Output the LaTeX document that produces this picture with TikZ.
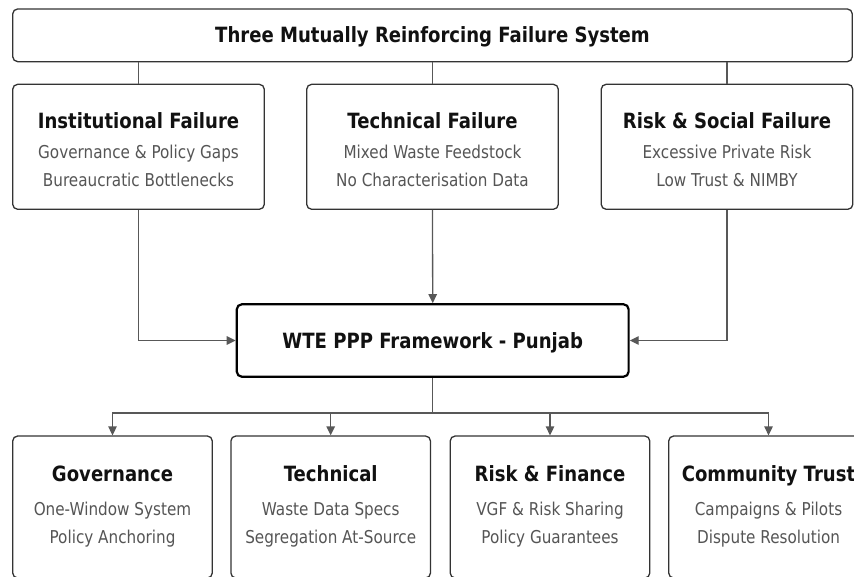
\documentclass[tikz,border=0pt]{standalone}
\usepackage{fontspec}
\setmainfont{DejaVu Sans}[FakeStretch=0.86]
\usepackage{tikz}
\usetikzlibrary{positioning, arrows.meta}

\definecolor{LineGray}{RGB}{88,88,88}
\definecolor{EdgeGray}{RGB}{51,51,51}
\definecolor{TitleBlack}{RGB}{17,17,17}
\definecolor{SubGray}{RGB}{85,85,85}

\newcommand{\titlefont}{\fontsize{21}{25}\selectfont\bfseries\color{TitleBlack}}
\newcommand{\subfont}{\fontsize{17.7}{27.7}\selectfont}
\newcommand{\boxlines}[4][2.3pt]{\begin{tabular}[t]{@{}c@{}}{\titlefont #2}\\[#1] #3\\ #4\end{tabular}}

\tikzstyle{card} = [draw=EdgeGray, line width=1.3pt, rounded corners=5pt, fill=white, inner sep=0pt]
\tikzstyle{boxtext} = [anchor=base, inner sep=0pt, font=\subfont, text=SubGray]
\tikzstyle{link} = [line width=1.3pt, LineGray]
\tikzstyle{arrow} = [link, -{Triangle[length=9pt,width=8.5pt]}]

\begin{document}
\begin{tikzpicture}[x=1pt, y=-1pt]
  % Canvas
  \fill[white] (0,0) rectangle (854,576);
  \useasboundingbox (0,0) rectangle (854,576);
  \clip (0,0) rectangle (854,576);

  % Header
  \node[card, minimum width=839.6pt, minimum height=52.7pt] (system) at (432.5,35.3) {};
  \node[boxtext] (system-text) at ([yshift=-7.4pt]system.center) {\titlefont Three Mutually Reinforcing Failure System};

  % Failure modes
  \foreach \name/\cx/\ttl/\la/\lb in {
      inst/138.5/Institutional Failure/Governance \& Policy Gaps/Bureaucratic Bottlenecks,
      tech/432.5/Technical Failure/Mixed Waste Feedstock/No Characterisation Data,
      risk/727/Risk \& Social Failure/Excessive Private Risk/Low Trust \& NIMBY} {
    \node[card, minimum width=251.6pt, minimum height=125pt] (\name) at (\cx,146.8) {};
    \node[boxtext] (\name-text) at ([yshift=-45pt]\name.north) {\boxlines{\ttl}{\la}{\lb}};
  }

  % Framework
  \node[card, draw=black, line width=2.2pt, minimum width=391.8pt, minimum height=72.4pt] (frame) at (432.7,340.5) {};
  \node[boxtext] (frame-text) at ([yshift=-7.8pt]frame.center) {\titlefont WTE PPP Framework - Punjab};

  % Pillars
  \foreach \name/\cx/\ttl/\la/\lb in {
      gov/112.5/Governance/One-Window System/Policy Anchoring,
      techplan/330.7/Technical/Waste Data Specs/Segregation At-Source,
      finance/550/Risk \& Finance/VGF \& Risk Sharing/Policy Guarantees,
      trust/768.5/Community Trust/Campaigns \& Pilots/Dispute Resolution} {
    \node[card, minimum width=199.6pt, minimum height=142pt] (\name) at (\cx,507) {};
    \node[boxtext] (\name-text) at ([yshift=-46.5pt]\name.north) {\boxlines[6pt]{\ttl}{\la}{\lb}};
  }

  % Connectors
  \foreach \name in {inst, tech, risk}
    \draw[link] (system.south -| \name.north) -- (\name.north);
  \draw[arrow] (inst.south) |- (frame.west);
  \draw[arrow] (tech.south) -- (frame.north);
  \draw[arrow] (risk.south) |- (frame.east);
  \draw[link] (frame.south) -- ++(0,35.2) coordinate (split);
  \foreach \name in {gov, techplan, finance, trust}
    \draw[arrow] (split) -| (\name.north);
\end{tikzpicture}
\end{document}
